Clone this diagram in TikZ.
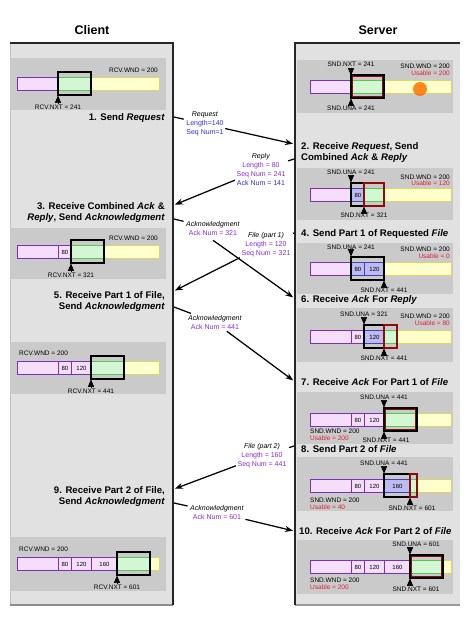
\documentclass[tikz,border=0pt]{standalone}
\usepackage{fontspec}
\setmainfont{Liberation Sans}
\usetikzlibrary{arrows,arrows.meta}
\usetikzlibrary{positioning}

\definecolor{panelgray}{HTML}{E1E1E1}
\definecolor{bandgray}{HTML}{CACACA}
\definecolor{donefill}{HTML}{F4DEFC}
\definecolor{doneline}{HTML}{7B2FBE}
\definecolor{sentfill}{HTML}{BCBCF2}
\definecolor{sentline}{HTML}{4040B8}
\definecolor{winfill}{HTML}{D2F7D2}
\definecolor{winline}{HTML}{55C855}
\definecolor{freefill}{HTML}{FFFFCC}
\definecolor{freeline}{HTML}{D8D86A}
\definecolor{userim}{HTML}{8E0B0B}
\definecolor{seqpurple}{HTML}{8B2BD6}
\definecolor{seqblue}{HTML}{2F2FD0}
\definecolor{usered}{HTML}{E0203A}

\begin{document}
\begin{tikzpicture}[x=1pt,y=-1pt,>={Stealth[length=8pt,width=6pt]},
  seg/.style={draw,line width=0.9pt,inner sep=0pt,minimum height=13pt,
    anchor=north west,font=\fontsize{6}{6}\selectfont},
  done/.style={seg,fill=donefill,draw=doneline},
  sent/.style={seg,fill=sentfill,draw=sentline},
  win/.style={seg,fill=winfill,draw=winline},
  free/.style={seg,fill=freefill,draw=freeline},
  wbox/.style={draw=black,line width=1.3pt},
  ubox/.style={draw=userim,line width=1.4pt},
  ptr/.style={-triangle 45,line width=0.7pt},
  ptrtxt/.style={inner sep=1pt,font=\fontsize{6.5}{7}\selectfont},
  usetxt/.style={ptrtxt,text=usered},
  steptxt/.style={inner sep=0pt,font=\bfseries\fontsize{9.6}{11}\selectfont},
  msgtxt/.style={inner sep=1.5pt,align=center,font=\fontsize{7}{9}\selectfont},
  msg/.style={line width=1.25pt,shorten >=1pt},
  headtxt/.style={font=\bfseries\fontsize{12.5}{14}\selectfont}]

\fill[white] (0,0) rectangle (469,622);
\useasboundingbox (0,0) rectangle (469,622);

\node[headtxt] (client) at (92,30) {Client};
\node[headtxt] (server) at (378,30) {Server};

% the two sides
\fill[panelgray] (10,43) rectangle (173,605);
\draw[black!25] (10,43) -- (10,605);
\draw[black!45,line width=1.5pt] (10,605) -- (173,605);
\draw[black!85,line width=2pt] (10,43) -- (173,43) -- (173,605);
\fill[panelgray] (295,43) rectangle (460,605);
\draw[black!40,line width=1.5pt] (295,605) -- (460,605);
\draw[black!85,line width=2pt] (460,43) -- (295,43) -- (295,605);

% client windows
\fill[bandgray] (10,58) rectangle (166,110);
\foreach \s/\a/\b/\t [count=\i] in {done/17/58/{},win/58/91/{},free/91/159/{}}
  \node[\s,minimum width={(\b-\a)*1pt}] (c1-\i) at (\a,77) {\t};
\draw[wbox] (58,72) rectangle (91,95);
\node[ptrtxt,anchor=east] (c1wnd) at (159,70) {RCV.WND = 200};
\node[ptrtxt] (c1nxt) at (58,107) {RCV.NXT = 241};
\draw[ptr] (c1nxt.north) -- ++(0,-8);

\fill[bandgray] (10,228) rectangle (166,279);
\foreach \s/\a/\b/\t [count=\i] in {done/17/58/{},done/58/71/80,win/71/104/{},free/104/159/{}}
  \node[\s,minimum width={(\b-\a)*1pt}] (c3-\i) at (\a,245) {\t};
\draw[wbox] (71,240) rectangle (104,263);
\node[ptrtxt,anchor=east] (c3wnd) at (159,238) {RCV.WND = 200};
\node[ptrtxt] (c3nxt) at (71,275) {RCV.NXT = 321};
\draw[ptr] (c3nxt.north) -- ++(0,-8);

\fill[bandgray] (10,342) rectangle (166,394);
\foreach \s/\a/\b/\t [count=\i] in {done/17/58/{},done/58/71/80,done/71/91/120,win/91/124/{},free/124/159/{}}
  \node[\s,minimum width={(\b-\a)*1pt}] (c5-\i) at (\a,361) {\t};
\draw[wbox] (91,356) rectangle (124,379);
\node[ptrtxt,anchor=west] (c5wnd) at (18,353) {RCV.WND = 200};
\node[ptrtxt] (c5nxt) at (91,391) {RCV.NXT = 441};
\draw[ptr] (c5nxt.north) -- ++(0,-8);

\fill[bandgray] (10,537) rectangle (166,591);
\foreach \s/\a/\b/\t [count=\i] in {done/17/58/{},done/58/71/80,done/71/91/120,done/91/117/160,win/117/150/{},free/150/159/{}}
  \node[\s,minimum width={(\b-\a)*1pt}] (c9-\i) at (\a,557) {\t};
\draw[wbox] (117,552) rectangle (150,575);
\node[ptrtxt,anchor=west] (c9wnd) at (18,549) {RCV.WND = 200};
\node[ptrtxt] (c9nxt) at (117,587) {RCV.NXT = 601};
\draw[ptr] (c9nxt.north) -- ++(0,-8);

% server windows
\fill[bandgray] (297,60) rectangle (453,113);
\foreach \s/\a/\b/\t [count=\i] in {done/310/351/{},win/351/384/{},free/384/451/{}}
  \node[\s,minimum width={(\b-\a)*1pt}] (s1-\i) at (\a,80) {\t};
\draw[wbox] (351,75) rectangle (384,98);
\draw[ubox] (352.5,76.5) rectangle (382.5,96.5);
\fill[orange!90!red,opacity=0.85] (420,89) circle (7);
\node[ptrtxt] (s1nxt) at (351,64) {SND.NXT = 241};
\draw[ptr] (s1nxt.south) -- ++(0,8);
\node[ptrtxt] (s1una) at (351,108) {SND.UNA = 241};
\draw[ptr] (s1una.north) -- ++(0,-6);
\node[ptrtxt,anchor=east] (s1wnd) at (451,66) {SND.WND = 200};
\node[usetxt,anchor=east] (s1use) at (451,73) {Usable = 200};

\fill[bandgray] (297,168) rectangle (453,220);
\foreach \s/\a/\b/\t [count=\i] in {done/310/351/{},sent/351/364/80,win/364/384/{},free/384/451/{}}
  \node[\s,minimum width={(\b-\a)*1pt}] (s2-\i) at (\a,188) {\t};
\draw[wbox] (351,183) rectangle (384,206);
\draw[ubox] (364,183) rectangle (384,206);
\node[ptrtxt] (s2una) at (351,172) {SND.UNA = 241};
\draw[ptr] (s2una.south) -- ++(0,7);
\node[ptrtxt] (s2nxt) at (364,215) {SND.NXT = 321};
\draw[ptr] (s2nxt.north) -- ++(0,-5);
\node[ptrtxt,anchor=east] (s2wnd) at (451,177) {SND.WND = 200};
\node[usetxt,anchor=east] (s2use) at (451,183) {Usable = 120};

\fill[bandgray] (297,243) rectangle (453,294);
\foreach \s/\a/\b/\t [count=\i] in {done/310/351/{},sent/351/364/80,sent/364/384/120,free/384/451/{}}
  \node[\s,minimum width={(\b-\a)*1pt}] (s4-\i) at (\a,262) {\t};
\draw[wbox] (351,257) rectangle (384,280);
\node[ptrtxt] (s4una) at (351,247) {SND.UNA = 241};
\draw[ptr] (s4una.south) -- ++(0,6);
\node[ptrtxt] (s4nxt) at (384,290) {SND.NXT = 441};
\draw[ptr] (s4nxt.north) -- ++(0,-6);
\node[ptrtxt,anchor=east] (s4wnd) at (451,249) {SND.WND = 200};
\node[usetxt,anchor=east] (s4use) at (451,256) {Usable = 0};

\fill[bandgray] (297,308) rectangle (453,362);
\foreach \s/\a/\b/\t [count=\i] in {done/310/351/{},done/351/364/80,sent/364/384/120,win/384/397/{},free/397/451/{}}
  \node[\s,minimum width={(\b-\a)*1pt}] (s6-\i) at (\a,330) {\t};
\draw[wbox] (364,325) rectangle (397,348);
\draw[ubox] (384,325) rectangle (397,348);
\node[ptrtxt] (s6una) at (364,314) {SND.UNA = 321};
\draw[ptr] (s6una.south) -- ++(0,7);
\node[ptrtxt] (s6nxt) at (384,358) {SND.NXT = 441};
\draw[ptr] (s6nxt.north) -- ++(0,-6);
\node[ptrtxt,anchor=east] (s6wnd) at (451,316) {SND.WND = 200};
\node[usetxt,anchor=east] (s6use) at (451,323) {Usable = 80};

\fill[bandgray] (297,392) rectangle (453,444);
\foreach \s/\a/\b/\t [count=\i] in {done/310/351/{},done/351/364/80,done/364/384/120,win/384/417/{},free/417/451/{}}
  \node[\s,minimum width={(\b-\a)*1pt}] (s7-\i) at (\a,413) {\t};
\draw[wbox] (384,408) rectangle (417,431);
\draw[ubox] (385.5,409.5) rectangle (415.5,429.5);
\node[ptrtxt] (s7una) at (384,397) {SND.UNA = 441};
\draw[ptr] (s7una.south) -- ++(0,7);
\node[ptrtxt] (s7nxt) at (386,440) {SND.NXT = 441};
\draw[ptr] (s7nxt.north -| 384,0) -- ++(0,-5);
\node[ptrtxt,anchor=west] (s7wnd) at (309,431) {SND.WND = 200};
\node[usetxt,anchor=west] (s7use) at (309,438) {Usable = 200};

\fill[bandgray] (297,457) rectangle (453,511);
\foreach \s/\a/\b/\t [count=\i] in {done/310/351/{},done/351/364/80,done/364/384/120,sent/384/410/160,win/410/417/{},free/417/451/{}}
  \node[\s,minimum width={(\b-\a)*1pt}] (s8-\i) at (\a,479) {\t};
\draw[wbox] (384,474) rectangle (417,497);
\draw[ubox] (410,474) rectangle (417,497);
\node[ptrtxt] (s8una) at (384,463) {SND.UNA = 441};
\draw[ptr] (s8una.south) -- ++(0,7);
\node[ptrtxt] (s8nxt) at (412,508) {SND.NXT = 601};
\draw[ptr] (s8nxt.north -| 410,0) -- ++(0,-7);
\node[ptrtxt,anchor=west] (s8wnd) at (309,500) {SND.WND = 200};
\node[usetxt,anchor=west] (s8use) at (309,507) {Usable = 40};

\fill[bandgray] (297,540) rectangle (453,594);
\foreach \s/\a/\b/\t [count=\i] in {done/310/351/{},done/351/364/80,done/364/384/120,done/384/410/160,win/410/443/{},free/443/451/{}}
  \node[\s,minimum width={(\b-\a)*1pt}] (s10-\i) at (\a,560) {\t};
\draw[wbox] (410,555) rectangle (443,578);
\draw[ubox] (411.5,556.5) rectangle (441.5,576.5);
\node[ptrtxt] (s10una) at (416,544) {SND.UNA = 601};
\draw[ptr] (s10una.south -| 410,0) -- ++(0,7);
\node[ptrtxt] (s10nxt) at (416,589) {SND.NXT = 601};
\draw[ptr] (s10nxt.north -| 410,0) -- ++(0,-7);
\node[ptrtxt,anchor=west] (s10wnd) at (309,580) {SND.WND = 200};
\node[usetxt,anchor=west] (s10use) at (309,587) {Usable = 200};

% steps
\node[steptxt,anchor=east] (st1) at (165,118) {1. Send \textit{Request}};
\node[steptxt,anchor=east,align=right] (st3) at (165,212.5)
  {3. Receive Combined \textit{Ack} \&\\\textit{Reply}, Send \textit{Acknowledgment}};
\node[steptxt,anchor=east,align=right] (st5) at (165,301.5)
  {5. Receive Part 1 of File,\\Send \textit{Acknowledgment}};
\node[steptxt,anchor=east,align=right] (st9) at (165,496.5)
  {9. Receive Part 2 of File,\\Send \textit{Acknowledgment}};
\node[steptxt,anchor=west,align=left] (st2) at (301,152.5)
  {2. Receive \textit{Request}, Send\\Combined \textit{Ack} \& \textit{Reply}};
\node[steptxt,anchor=west] (st4) at (301,234) {4. Send Part 1 of Requested \textit{File}};
\node[steptxt,anchor=west] (st6) at (301,300) {6. Receive \textit{Ack} For \textit{Reply}};
\node[steptxt,anchor=west] (st7) at (301,382) {7. Receive \textit{Ack} For Part 1 of \textit{File}};
\node[steptxt,anchor=west] (st8) at (301,449) {8. Send Part 2 of \textit{File}};
\node[steptxt,anchor=west] (st10) at (299,531) {10. Receive \textit{Ack} For Part 2 of \textit{File}};

% segments on the wire
\coordinate (c1) at (174,117);  \coordinate (s1) at (294,144);
\coordinate (s2) at (294,159);  \coordinate (c2) at (174,205);
\coordinate (c3) at (174,219);  \coordinate (s3) at (294,298);
\coordinate (s4) at (294,233);  \coordinate (c4) at (174,291);
\coordinate (c5) at (174,307);  \coordinate (s5) at (294,381);
\coordinate (s6) at (294,446);  \coordinate (c6) at (174,489);
\coordinate (c7) at (174,503);  \coordinate (s7) at (294,531);

\node[msgtxt] (req) at (205,124) {\textit{Request}\\\textcolor{seqblue}{Length=140}\\\textcolor{seqblue}{Seq Num=1}};
\node[msgtxt] (rep) at (261,169.5) {\textit{Reply}\\\textcolor{seqpurple}{Length = 80}\\\textcolor{seqpurple}{Seq Num = 241}\\\textcolor{seqblue}{Ack Num = 141}};
\node[msgtxt] (ack1) at (213,228.5) {\textit{Acknowledgment}\\\textcolor{seqpurple}{Ack Num = 321}};
\node[msgtxt] (file1) at (266,244.5) {\textit{File (part 1)}\\\textcolor{seqpurple}{Length = 120}\\\textcolor{seqpurple}{Seq Num = 321}};
\node[msgtxt] (ack2) at (215,322.5) {\textit{Acknowledgment}\\\textcolor{seqpurple}{Ack Num = 441}};
\node[msgtxt] (file2) at (262,456) {\textit{File (part 2)}\\\textcolor{seqpurple}{Length = 160}\\\textcolor{seqpurple}{Seq Num = 441}};
\node[msgtxt] (ack3) at (217,512.5) {\textit{Acknowledgment}\\\textcolor{seqpurple}{Ack Num = 601}};

\draw[msg] (c1) -- (req);    \draw[msg,->] (req) -- (s1);
\draw[msg] (s2) -- (rep);    \draw[msg,->] (rep) -- (c2);
\draw[msg] (c3) -- (ack1);   \draw[msg,->] ([yshift=-3pt]ack1.south) -- (s3);
\draw[msg] (s4) -- (file1);  \draw[msg,->] (file1) -- (c4);
\draw[msg] (c5) -- (ack2);   \draw[msg,->] (ack2) -- (s5);
\draw[msg] (s6) -- (file2);  \draw[msg,->] (file2) -- (c6);
\draw[msg] (c7) -- (ack3);   \draw[msg,->] (ack3) -- (s7);
\end{tikzpicture}
\end{document}
